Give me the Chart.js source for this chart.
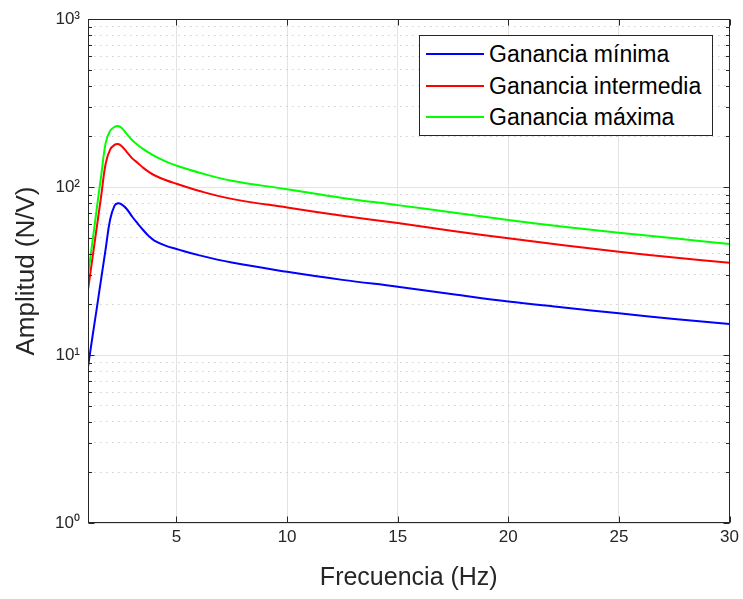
<!DOCTYPE html>
<html>
<head>
<meta charset="utf-8">
<script src="https://cdn.jsdelivr.net/npm/chart.js@4.4.1/dist/chart.umd.min.js"></script>
<style>
  body { margin: 0; background: #fff; }
  #wrap { position: relative; width: 743px; height: 599px; }
  #legend {
    position: absolute; left: 419px; top: 35px; width: 292px; height: 99px;
    border: 1px solid #262626; background: #fff;
    font: 23px "Liberation Sans", Arial, sans-serif; color: #000;
  }
  .item { position: absolute; left: 6px; height: 26px; line-height: 26px; white-space: nowrap; }
  .swatch { position: absolute; left: 0; top: 12px; width: 58px; height: 2px; }
  .name { position: absolute; left: 63px; top: 0; }
</style>
</head>
<body>
<div id="wrap">
  <canvas id="chart" width="743" height="599"></canvas>
  <div id="legend"></div>
</div>
<script>
// frequency samples (Hz) shared by the three curves
const freq    = [1, 1.2, 1.4, 1.6, 1.8, 2.0, 2.2, 2.35, 2.5, 2.75, 3.0, 3.25, 3.5, 3.75, 4.0, 4.5, 5, 6, 7.5, 10, 12.5, 15, 17.5, 20, 22.5, 25, 27.5, 30];
const gainMin = [8.5, 12.8, 19.1, 28.7, 43, 64, 77.5, 80, 79, 74, 66.5, 60.5, 55.3, 51, 48, 44.8, 42.8, 39.3, 35.5, 31.3, 28, 25.5, 23, 20.8, 19.2, 17.7, 16.4, 15.3];
const gainMid = [24.4, 37.6, 58, 89, 138, 167, 178, 180, 176, 162, 148, 139, 130, 123, 117.5, 110, 104.5, 95, 85, 75.5, 67.5, 61, 54.8, 49.5, 45, 41.2, 38, 35.4];
const gainMax = [30, 47, 75, 118, 183, 216, 228, 231, 226, 207, 190, 178, 168, 160, 153, 142, 134, 122, 109, 97, 86, 78, 70.5, 63.6, 58, 53.5, 49.5, 45.8];

const seriesNames  = ['Ganancia mínima', 'Ganancia intermedia', 'Ganancia máxima'];
const seriesColors = ['#0000ff', '#ff0000', '#00ff00'];

const xTicks = [5, 10, 15, 20, 25, 30];
const yTicks = [1, 10, 100, 1000];
const yTickLabels = ['10⁰', '10¹', '10²', '10³'];
const yMinorTicks = [2, 3, 4, 5, 6, 7, 8, 9, 20, 30, 40, 50, 60, 70, 80, 90, 200, 300, 400, 500, 600, 700, 800, 900];

const FONT = '"Liberation Sans", Arial, sans-serif';
const TEXT = '#262626';

const toPoints = vals => vals.map((v, i) => ({ x: freq[i], y: v }));

const datasets = [gainMin, gainMid, gainMax].map((vals, i) => ({
  label: seriesNames[i],
  data: toPoints(vals),
  borderColor: seriesColors[i],
  backgroundColor: seriesColors[i],
  borderWidth: 2,
  pointRadius: 0,
  tension: 0.4,
  fill: false,
  order: 2 - i // later series on top, like the original
}));

// box round the plot and inward tick marks
const frame = {
  id: 'frame',
  afterDatasetsDraw(chart) {
    const { ctx, chartArea: a, scales } = chart;
    const L = Math.round(a.left) + 0.5, R = Math.round(a.right) - 0.5;
    const T = Math.round(a.top) + 0.5, B = Math.round(a.bottom) - 0.5;
    ctx.save();
    ctx.strokeStyle = TEXT;
    ctx.lineWidth = 1;
    ctx.strokeRect(L, T, R - L, B - T);
    ctx.beginPath();
    scales.x.ticks.forEach(t => {
      const px = Math.round(scales.x.getPixelForValue(t.value)) + 0.5;
      ctx.moveTo(px, B); ctx.lineTo(px, B - 6);
      ctx.moveTo(px, T); ctx.lineTo(px, T + 6);
    });
    const yTick = (scale, len) => scale.ticks.forEach(t => {
      const py = Math.round(scale.getPixelForValue(t.value)) + 0.5;
      ctx.moveTo(L, py); ctx.lineTo(L + len, py);
      ctx.moveTo(R, py); ctx.lineTo(R - len, py);
    });
    yTick(scales.y, 6);
    yTick(scales.yMinor, 3.5);
    ctx.stroke();
    ctx.restore();
  }
};

new Chart(document.getElementById('chart'), {
  type: 'line',
  data: { datasets },
  plugins: [frame],
  options: {
    responsive: false,
    animation: false,
    devicePixelRatio: 1,
    layout: { padding: { left: 0, right: 13, top: 19, bottom: 0 } },
    plugins: { legend: { display: false }, tooltip: { enabled: false } },
    scales: {
      x: {
        type: 'linear', min: 1, max: 30,
        afterBuildTicks: s => { s.ticks = xTicks.map(v => ({ value: v })); },
        afterFit: s => { s.height = 76; },
        grid: { color: '#e3e3e3', drawTicks: false },
        border: { display: false },
        ticks: { color: TEXT, font: { family: FONT, size: 17 }, padding: 4, maxRotation: 0, autoSkip: false },
        title: { display: true, text: 'Frecuencia (Hz)', color: TEXT, font: { family: FONT, size: 25 }, padding: { top: 0, bottom: 6 } }
      },
      y: {
        type: 'logarithmic', min: 1, max: 1000, position: 'left',
        afterBuildTicks: s => { s.ticks = yTicks.map(v => ({ value: v })); },
        afterFit: s => { s.width = 88; },
        grid: { color: '#e3e3e3', drawTicks: false },
        border: { display: false },
        ticks: {
          color: TEXT, font: { family: FONT, size: 17 }, padding: 8, autoSkip: false,
          callback: v => { const i = yTicks.indexOf(v); return i < 0 ? '' : yTickLabels[i]; }
        },
        title: { display: true, text: 'Amplitud (N/V)', color: TEXT, font: { family: FONT, size: 26 }, padding: { top: 11, bottom: 0 } }
      },
      yMinor: {
        type: 'logarithmic', min: 1, max: 1000, position: 'left',
        afterBuildTicks: s => { s.ticks = yMinorTicks.map(v => ({ value: v })); },
        afterFit: s => { s.width = 0; },
        grid: { color: '#cfcfcf', drawTicks: false },
        border: { display: false, dash: [1.5, 4.5] },
        ticks: { display: false }
      }
    }
  }
});

// legend box drawn over the plot, top right
const legend = document.getElementById('legend');
const rowCenters = [18, 50, 81];
seriesNames.forEach((name, i) => {
  const item = document.createElement('div');
  item.className = 'item';
  item.style.top = (rowCenters[i] - 13) + 'px';
  item.innerHTML = '<span class="swatch" style="background:' + seriesColors[i] + '"></span><span class="name">' + name + '</span>';
  legend.appendChild(item);
});
</script>
</body>
</html>
